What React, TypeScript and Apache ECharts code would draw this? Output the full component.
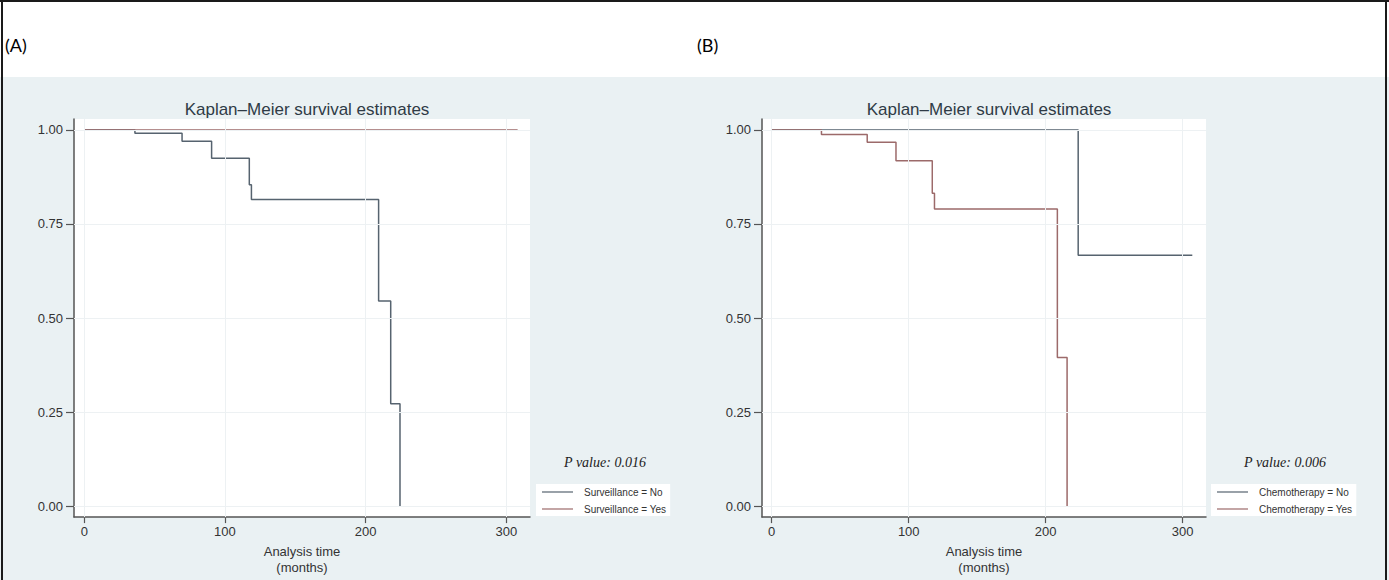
import React, { useEffect, useRef } from "react";
import * as echarts from "echarts";

// ---- Data ----
const survNoMonths = [0, 36, 69.5, 90.5, 117.3, 118.8, 209.2, 217.8, 224.4];
const survNoValues = [1, 0.991, 0.97, 0.925, 0.854, 0.815, 0.545, 0.272, 0];
const survYesMonths = [0, 308];
const survYesValues = [1, 1];

const chemoNoMonths = [0, 223.7, 307];
const chemoNoValues = [1, 0.667, 0.667];
const chemoYesMonths = [0, 36.3, 69.7, 90.7, 117.2, 118.8, 208.5, 215.6];
const chemoYesValues = [1, 0.988, 0.967, 0.918, 0.832, 0.79, 0.395, 0];

const xTicks = [0, 100, 200, 300];
const yTicks = [0, 0.25, 0.5, 0.75, 1];

const panelLabels = ["(A)", "(B)"];
const titleText = "Kaplan\u2013Meier survival estimates";
const xAxisTitle = "Analysis time\n(months)";
const pValues = ["P value: 0.016", "P value: 0.006"];
const legendNames = [
  ["Surveillance = No", "Surveillance = Yes"],
  ["Chemotherapy = No", "Chemotherapy = Yes"],
];

const COLOR_NO = "#56636f";
const COLOR_YES = "#9c6a6a";
const SANS = "'Liberation Sans', Arial, sans-serif";
const SERIF = "'Liberation Serif', 'Times New Roman', serif";

const zip = (xs: number[], ys: number[]) => xs.map((x, i) => [x, ys[i]]);

export default function App() {
  const ref = useRef<HTMLDivElement>(null);

  useEffect(() => {
    if (!ref.current) return;
    const chart = echarts.init(ref.current, undefined, { renderer: "svg" });

    const makeX = (gridIndex: number, min: number, max: number) => ({
      type: "value",
      gridIndex,
      min,
      max,
      axisLine: { show: true, onZero: false, lineStyle: { color: "#555", width: 1.5 } },
      axisTick: { show: true, customValues: xTicks, length: 6, lineStyle: { color: "#555", width: 1.2 } },
      axisLabel: {
        customValues: xTicks,
        margin: 8,
        fontSize: 13,
        color: "#333",
        fontFamily: SANS,
      },
      splitLine: { show: false },
      name: xAxisTitle,
      nameLocation: "middle",
      nameGap: 23,
      nameTextStyle: { fontSize: 13, color: "#333", fontFamily: SANS, lineHeight: 16 },
    });

    const makeY = (gridIndex: number) => ({
      type: "value",
      gridIndex,
      min: -0.029,
      max: 1.029,
      axisLine: { show: true, onZero: false, lineStyle: { color: "#555", width: 1.5 } },
      axisTick: { show: true, customValues: yTicks, length: 8, lineStyle: { color: "#555", width: 1.2 } },
      axisLabel: {
        customValues: yTicks,
        margin: 11,
        fontSize: 13,
        color: "#333",
        fontFamily: SANS,
        formatter: (v: number) => v.toFixed(2),
      },
      splitLine: { show: false },
    });

    const gridLineSeries = (idx: number) => ({
      type: "line",
      name: "grid" + idx,
      xAxisIndex: idx,
      yAxisIndex: idx,
      data: [],
      z: 1,
      silent: true,
      markLine: {
        silent: true,
        symbol: ["none", "none"],
        label: { show: false },
        emphasis: { disabled: true },
        lineStyle: { color: "#edf1f3", width: 1, type: "solid" },
        data: [
          ...xTicks.map((v) => ({ xAxis: v })),
          ...yTicks.map((v) => ({ yAxis: v })),
        ],
      },
    });

    const curve = (name: string, idx: number, xs: number[], ys: number[], color: string) => ({
      type: "line",
      name,
      xAxisIndex: idx,
      yAxisIndex: idx,
      step: "end",
      symbol: "none",
      showSymbol: false,
      z: 3,
      lineStyle: { color, width: 1.5 },
      itemStyle: { color },
      emphasis: { disabled: true },
      data: zip(xs, ys),
    });

    const legend = (idx: number, left: number) => ({
      data: legendNames[idx],
      orient: "vertical",
      left,
      top: 484,
      backgroundColor: "#fff",
      padding: [2, 4, 1, 6],
      itemGap: 5,
      itemWidth: 31,
      itemHeight: 1.2,
      icon: "rect",
      selectedMode: false,
      textStyle: { fontSize: 10, lineHeight: 12, color: "#333", fontFamily: SANS, padding: [0, 0, 0, 6] },
    });

    chart.setOption({
      animation: false,
      backgroundColor: "#eaf1f3",
      title: [
        {
          text: titleText,
          left: 302,
          top: 96,
          textAlign: "center",
          textStyle: { fontSize: 17, fontWeight: "normal", color: "#2f3b46", fontFamily: SANS },
        },
        {
          text: titleText,
          left: 984,
          top: 96,
          textAlign: "center",
          textStyle: { fontSize: 17, fontWeight: "normal", color: "#2f3b46", fontFamily: SANS },
        },
      ],
      grid: [
        { left: 74, right: 1389 - 530, top: 119, bottom: 59, show: true, backgroundColor: "#ffffff", borderWidth: 0 },
        { left: 762, right: 1389 - 1206, top: 119, bottom: 59, show: true, backgroundColor: "#ffffff", borderWidth: 0 },
      ],
      xAxis: [makeX(0, -7.3, 316.8), makeX(1, -7.1, 317)],
      yAxis: [makeY(0), makeY(1)],
      legend: [legend(0, 536), legend(1, 1211)],
      series: [
        gridLineSeries(0),
        gridLineSeries(1),
        curve(legendNames[0][0], 0, survNoMonths, survNoValues, COLOR_NO),
        curve(legendNames[0][1], 0, survYesMonths, survYesValues, COLOR_YES),
        curve(legendNames[1][0], 1, chemoNoMonths, chemoNoValues, COLOR_NO),
        curve(legendNames[1][1], 1, chemoYesMonths, chemoYesValues, COLOR_YES),
      ],
      graphic: [
        { type: "rect", shape: { x: 0, y: 0, width: 1389, height: 77 }, style: { fill: "#ffffff" }, z: 0, silent: true },
        { type: "line", shape: { x1: 0, y1: 1, x2: 1389, y2: 1 }, style: { stroke: "#1a1a1a", lineWidth: 2 }, silent: true },
        { type: "line", shape: { x1: 2, y1: 0, x2: 2, y2: 580 }, style: { stroke: "#1a1a1a", lineWidth: 2 }, silent: true },
        { type: "line", shape: { x1: 1386, y1: 0, x2: 1386, y2: 580 }, style: { stroke: "#1a1a1a", lineWidth: 2 }, silent: true },
        {
          type: "text",
          x: 5,
          y: 45,
          style: { text: panelLabels[0], fontSize: 18, fontFamily: "Lato, 'Open Sans', sans-serif", fill: "#000", verticalAlign: "middle" },
          silent: true,
        },
        {
          type: "text",
          x: 697,
          y: 45,
          style: { text: panelLabels[1], fontSize: 18, fontFamily: "Lato, 'Open Sans', sans-serif", fill: "#000", verticalAlign: "middle" },
          silent: true,
        },
        {
          type: "text",
          x: 605,
          y: 462,
          style: { text: pValues[0], fontSize: 14, fontStyle: "italic", fontFamily: SERIF, fill: "#222", align: "center", verticalAlign: "middle" },
          silent: true,
        },
        {
          type: "text",
          x: 1285,
          y: 462,
          style: { text: pValues[1], fontSize: 14, fontStyle: "italic", fontFamily: SERIF, fill: "#222", align: "center", verticalAlign: "middle" },
          silent: true,
        },
      ],
    });

    return () => chart.dispose();
  }, []);

  return (
    <div
      ref={ref}
      style={{ position: "fixed", left: 0, top: 0, width: 1389, height: 580 }}
    />
  );
}
